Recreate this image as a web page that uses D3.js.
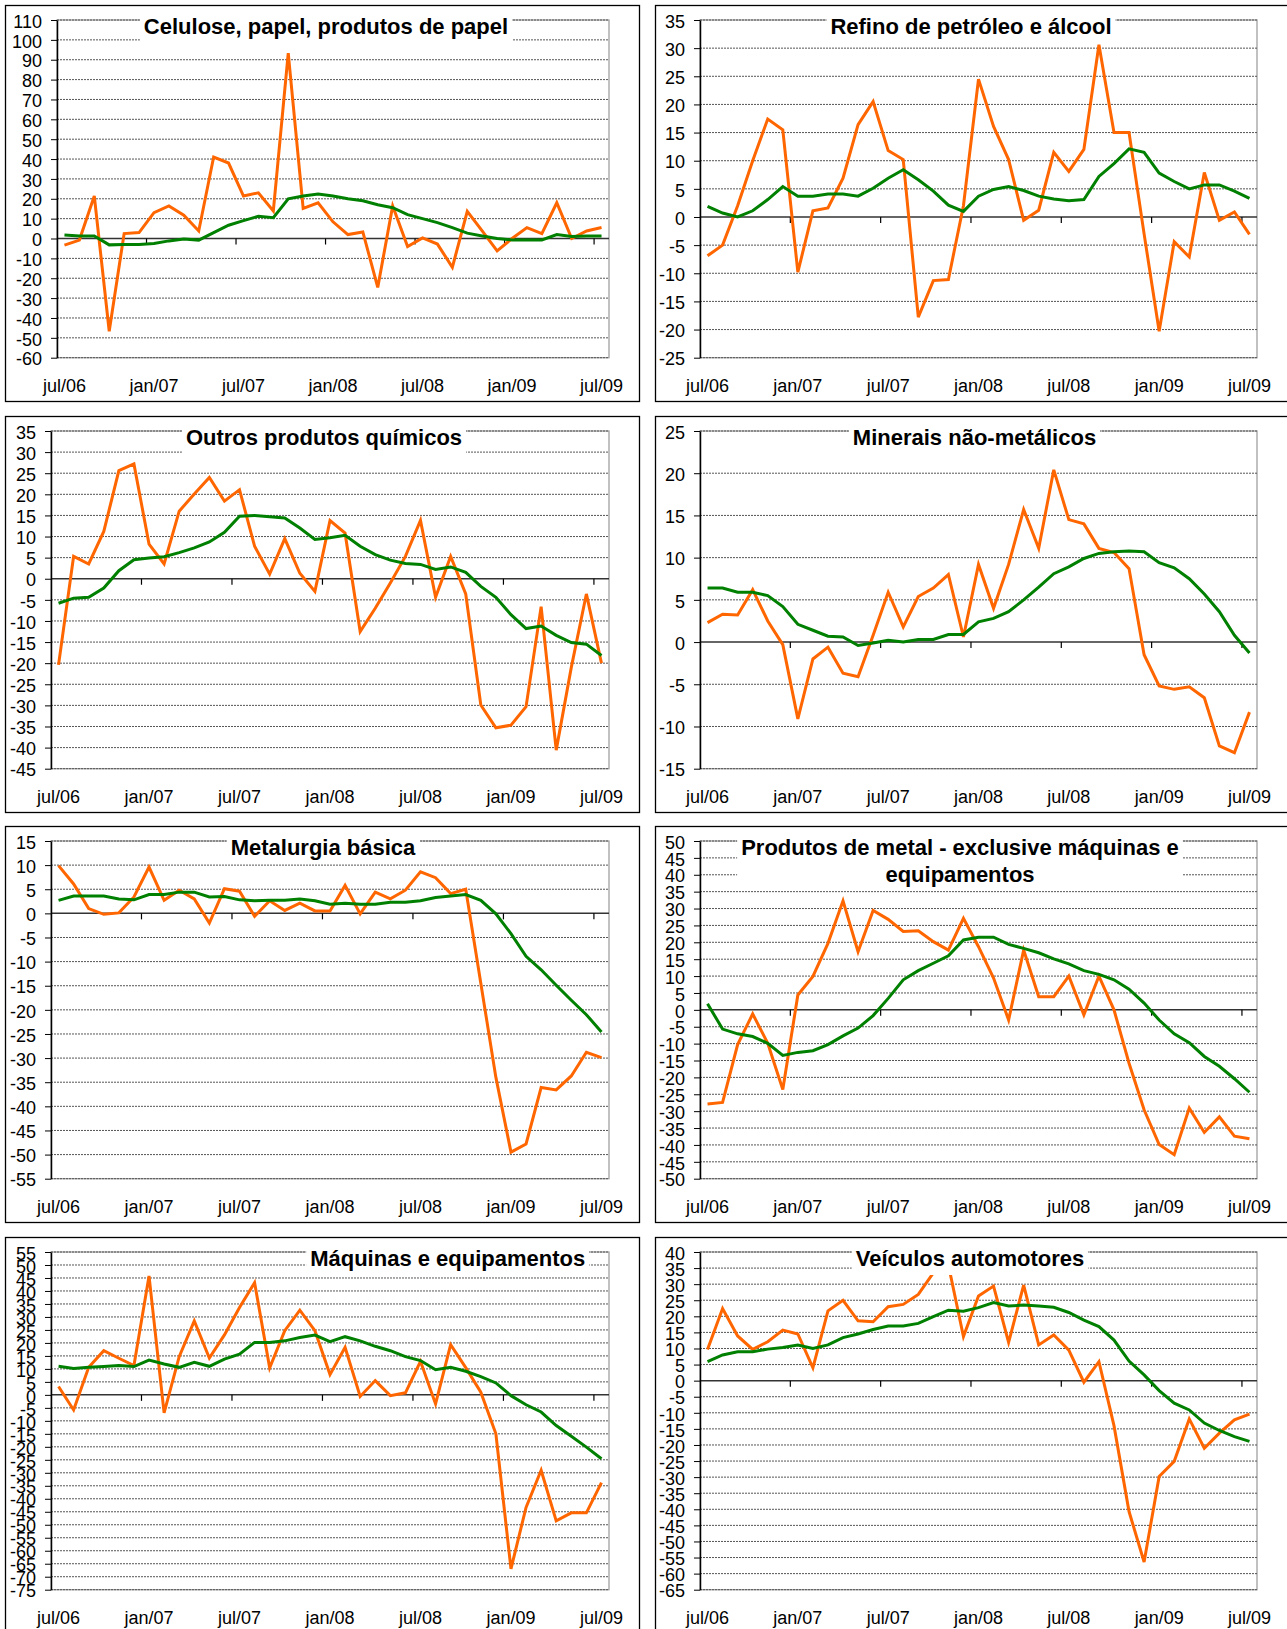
<!DOCTYPE html>
<html><head><meta charset="utf-8">
<script src="https://cdn.jsdelivr.net/npm/d3@7"></script>
<style>
body{margin:0;background:#fff}
svg{display:block}
text{font-family:"Liberation Sans",Arial,Helvetica,sans-serif}
</style>
</head><body>
<svg id="c" width="1287" height="1629"></svg>
<script>
// ---------- categories ----------
const months = ["jul/06","ago/06","set/06","out/06","nov/06","dez/06",
"jan/07","fev/07","mar/07","abr/07","mai/07","jun/07","jul/07","ago/07","set/07","out/07","nov/07","dez/07",
"jan/08","fev/08","mar/08","abr/08","mai/08","jun/08","jul/08","ago/08","set/08","out/08","nov/08","dez/08",
"jan/09","fev/09","mar/09","abr/09","mai/09","jun/09","jul/09"];
const xTickLabels = ["jul/06","jan/07","jul/07","jan/08","jul/08","jan/09","jul/09"];

// ---------- series values (orange = monthly, green = moving average) ----------
const celuloseMensal = [-3.3,-0.8,21.4,-46.7,2.5,3,13,16.4,11.7,3.8,41,38,21.4,23,13.9,93.3,15.2,18,8.4,2,3.3,-24.6,16.4,-4,0.3,-2.8,-14.5,13.7,3.8,-6.2,0,5.5,2.5,18,0,3.8,5.5];
const celuloseMedia  = [1.8,1.3,1.3,-3.2,-3,-3,-2.5,-1.2,-0.2,-0.8,3,6.7,9,11.2,10.5,20,21.4,22.4,21.4,20,19,17,15.5,12,10,8,5.5,2.7,1.3,0,-0.7,-0.7,-0.7,2,1,1.3,1.3];

const refinoMensal = [-6.9,-5,2,10,17.4,15.5,-9.8,1.1,1.6,6.9,16.4,20.5,11.8,10.2,-17.8,-11.3,-11.1,2,24.5,16.1,10.2,-0.6,1.2,11.5,8.1,12,30.6,15,15,-3,-20.3,-4.4,-7.1,7.9,-0.6,0.9,-3.1];
const refinoMedia  = [1.9,0.7,0,1.1,3.1,5.4,3.7,3.7,4.1,4.1,3.7,5.1,6.9,8.4,6.6,4.6,2.1,1,3.7,4.9,5.4,4.7,3.7,3.2,2.9,3.1,7.2,9.5,12.1,11.5,7.8,6.3,5,5.7,5.7,4.6,3.3];

const quimicosMensal = [-20.4,5.3,3.5,11.2,25.6,27.2,8.2,3.5,16,20.1,24,18.4,21.1,7.7,1.1,9.5,1.3,-3,13.8,10.8,-12.5,-7,-1,5.3,13.8,-4.4,5.3,-3.6,-29.9,-35.3,-34.7,-30.3,-6.6,-40.6,-21,-3.6,-20];
const quimicosMedia  = [-5.8,-4.6,-4.4,-2.2,1.9,4.5,4.9,5.2,6.2,7.3,8.7,11,14.8,15,14.7,14.4,12,9.3,9.7,10.3,7.7,5.7,4.4,3.6,3.4,2.2,2.8,1.5,-1.8,-4.4,-8.5,-11.8,-11.2,-13.4,-15.1,-15.5,-18.2];

const mineraisMensal = [2.3,3.3,3.2,6.2,2.5,-0.3,-9.1,-2,-0.6,-3.7,-4.1,0.8,5.9,1.8,5.4,6.4,8,0.6,9.2,4,9.2,15.7,11.1,20.4,14.5,14,11.1,10.6,8.7,-1.5,-5.2,-5.6,-5.3,-6.6,-12.3,-13.1,-8.3];
const mineraisMedia  = [6.4,6.4,5.9,5.9,5.5,4.2,2.1,1.4,0.7,0.6,-0.4,-0.1,0.2,0,0.3,0.3,0.9,0.9,2.4,2.8,3.6,5,6.5,8.1,8.9,9.9,10.5,10.7,10.8,10.7,9.4,8.8,7.5,5.7,3.6,0.8,-1.3];

const metalurgiaMensal = [9.9,6.1,1,-0.2,0.1,3.4,9.6,2.7,4.8,3,-2,5.1,4.6,-0.6,2.6,0.6,2.1,0.5,0.5,5.8,-0.1,4.4,3,4.8,8.6,7.4,4.1,5,-14.5,-34,-49.5,-47.8,-36.1,-36.6,-33.7,-28.8,-29.9];
const metalurgiaMedia  = [2.7,3.6,3.6,3.6,3,2.8,3.9,3.9,4.4,4.4,3.4,3.5,2.8,2.6,2.7,2.7,3,2.6,1.9,2.1,1.9,1.9,2.3,2.3,2.6,3.3,3.6,3.9,2.7,-0.1,-4.2,-8.9,-11.7,-14.9,-18,-21,-24.6];

const metalMensal = [-27.9,-27.4,-10.3,-1.2,-9.9,-23.6,4.4,9.9,19.7,32.3,17.2,29.4,26.8,23.2,23.4,20.2,17.7,27.1,18.7,9.4,-3,17.7,3.9,3.9,10,-1.5,10,0,-15.8,-29.6,-39.9,-42.9,-29.1,-36.3,-31.7,-37.4,-38.2];
const metalMedia  = [1.8,-5.7,-7.1,-7.9,-9.9,-13.5,-12.6,-12.1,-10.3,-7.7,-5.4,-1.7,3.4,8.9,11.6,13.8,16,20.7,21.5,21.5,19.4,18.2,16.9,15.1,13.6,11.6,10.5,8.9,6.1,2,-3,-7.1,-9.7,-13.8,-16.7,-20.4,-24.4];

const maquinasMensal = [3.2,-5.8,10.6,17,14.1,11.3,45.8,-6.9,14.7,28.5,14.2,23.1,33.6,43.2,10.4,24.7,32.6,24.7,7.8,18.3,-0.6,5.5,-0.3,0.8,12.9,-3.5,19.3,10.5,1,-15,-67,-43.3,-29,-48.5,-45.4,-45.4,-33.8];
const maquinasMedia  = [11,10.2,10.6,10.9,11.3,10.9,13.4,11.9,10.6,12.5,11,13.8,15.7,20.2,20.2,20.8,22.1,23,20.5,22.4,20.8,18.7,17,14.7,13.2,9.7,10.6,9.1,7,4.6,-0.3,-3.8,-6.6,-11.8,-15.9,-20.1,-24.6];

const veiculosMensal = [9.7,22.4,13.9,9.7,12.1,15.7,14.5,4,21.7,25,18.6,18.3,23,23.7,26.8,33.5,36,13.7,26.3,29.4,11.9,29.7,11.1,14.2,9.5,-0.5,5.9,-14,-40.7,-56.4,-29.8,-25.1,-11.9,-21,-16.3,-12.2,-10.4];
const veiculosMedia  = [5.9,8,9,9,9.8,10.3,11.1,10,11.1,13.4,14.5,15.9,17,17,17.8,19.9,21.9,21.6,22.7,24.3,23.2,23.5,23.2,22.8,21.2,18.8,16.8,12.6,6.1,1.8,-3.1,-7,-9.1,-13.2,-15.5,-17.4,-18.9];

// ---------- titles and y tick ranges ----------
const panelTitles = [
  ["Celulose, papel, produtos de papel"],
  ["Refino de petróleo e álcool"],
  ["Outros produtos químicos"],
  ["Minerais não-metálicos"],
  ["Metalurgia básica"],
  ["Produtos de metal - exclusive máquinas e","equipamentos"],
  ["Máquinas e equipamentos"],
  ["Veículos automotores"]
];
const yTickMin  = [-60,-25,-45,-15,-55,-50,-75,-65];
const yTickMax  = [110, 35, 35, 25, 15, 50, 55, 40];
const yTickStep = [10, 5, 5, 5, 5, 5, 5, 5];
const monthlySeries = [celuloseMensal, refinoMensal, quimicosMensal, mineraisMensal, metalurgiaMensal, metalMensal, maquinasMensal, veiculosMensal];
const averageSeries = [celuloseMedia, refinoMedia, quimicosMedia, mineraisMedia, metalurgiaMedia, metalMedia, maquinasMedia, veiculosMedia];

// ---------- layout (positions/styles only) ----------
const colBoxX = [5, 655], colBoxW = [634, 636];
const rowBoxY = [5, 416, 826, 1237], boxH = 396;
const plotX0 = [57, 700, 51, 700, 51, 700, 51, 700];
const plotX1 = [609, 1257];
const titleCX = [326, 971, 324, 974.5, 323, 960, 447.7, 970];
const FONT = '"Liberation Sans",Arial,Helvetica,sans-serif';
const ORANGE = "#FF6600", GREEN = "#008000";

const svg = d3.select("#c");

panelTitles.forEach((title, k) => {
  const col = k % 2, row = Math.floor(k / 2);
  const bx = colBoxX[col], by = rowBoxY[row], bw = colBoxW[col];
  const x0 = plotX0[k], x1 = plotX1[col];
  const yTop = by + 15, yBot = by + 352.7;
  const g = svg.append("g");

  // outer box
  g.append("rect").attr("x", bx + 0.5).attr("y", by + 0.5).attr("width", bw).attr("height", boxH)
    .attr("fill", "#fff").attr("stroke", "#000").attr("stroke-width", 1.3);

  const x = d3.scalePoint().domain(months).range([x0, x1]).padding(0.5);
  const xb = d3.scaleBand().domain(months).range([x0, x1]);
  const y = d3.scaleLinear().domain([yTickMin[k], yTickMax[k]]).range([yBot, yTop]);
  const ticks = d3.range(yTickMin[k], yTickMax[k] + yTickStep[k] / 2, yTickStep[k]);

  // plot area border
  g.append("rect").attr("x", x0).attr("y", yTop).attr("width", x1 - x0).attr("height", yBot - yTop)
    .attr("fill", "none").attr("stroke", "#a0a0a0").attr("stroke-width", 1.3);

  // gridlines
  g.append("g").selectAll("line").data(ticks.filter(t => t !== 0)).join("line")
    .attr("x1", x0).attr("x2", x1).attr("y1", d => y(d)).attr("y2", d => y(d))
    .attr("stroke", "#555").attr("stroke-width", 1).attr("stroke-dasharray", "2,1");

  // zero line
  g.append("line").attr("x1", x0).attr("x2", x1).attr("y1", y(0)).attr("y2", y(0))
    .attr("stroke", "#333").attr("stroke-width", 1.5);

  // x tick marks at category boundaries every 6 months
  const bIdx = [6, 12, 18, 24, 30, 36];
  g.append("g").selectAll("line").data(bIdx).join("line")
    .attr("x1", i => xb(months[i])).attr("x2", i => xb(months[i]))
    .attr("y1", y(0)).attr("y2", y(0) + 6)
    .attr("stroke", "#000").attr("stroke-width", 1.2);

  // y axis
  const ax = g.append("g").attr("transform", `translate(${x0},0)`)
    .call(d3.axisLeft(y).tickValues(ticks).tickSize(6).tickSizeOuter(0).tickPadding(9).tickFormat(d => String(d)));
  ax.select(".domain").attr("stroke", "#000").attr("stroke-width", 1.5);
  ax.selectAll(".tick line").attr("stroke", "#000").attr("stroke-width", 1);
  ax.selectAll(".tick text").attr("font-size", 18).attr("font-family", FONT).attr("fill", "#000").attr("dy", "0.4em");

  // series
  const line = d3.line().x((d, i) => x(months[i])).y(d => y(d));
  g.append("path").datum(monthlySeries[k]).attr("d", line)
    .attr("fill", "none").attr("stroke", ORANGE).attr("stroke-width", 3);
  g.append("path").datum(averageSeries[k]).attr("d", line)
    .attr("fill", "none").attr("stroke", GREEN).attr("stroke-width", 3);

  // title with white backing box
  const tg = g.append("g");
  const bg = tg.append("rect").attr("fill", "#fff");
  const tt = tg.selectAll("text").data(title).join("text")
    .attr("x", titleCX[k]).attr("y", (d, i) => by + 28.5 + i * 27)
    .attr("text-anchor", "middle").attr("font-size", 22).attr("font-weight", "bold")
    .attr("font-family", FONT).attr("fill", "#000").text(d => d);
  let minX = Infinity, maxX = -Infinity;
  tt.each(function() { const b = this.getBBox(); minX = Math.min(minX, b.x); maxX = Math.max(maxX, b.x + b.width); });
  bg.attr("x", minX - 4).attr("width", maxX - minX + 8)
    .attr("y", by + 8).attr("height", title.length === 1 ? 30 : 55);

  // x labels
  g.append("g").selectAll("text").data(xTickLabels).join("text")
    .attr("x", d => x(d)).attr("y", by + 386.5)
    .attr("text-anchor", "middle").attr("font-size", 18).attr("font-family", FONT).attr("fill", "#000")
    .text(d => d);
});
</script>
</body></html>
